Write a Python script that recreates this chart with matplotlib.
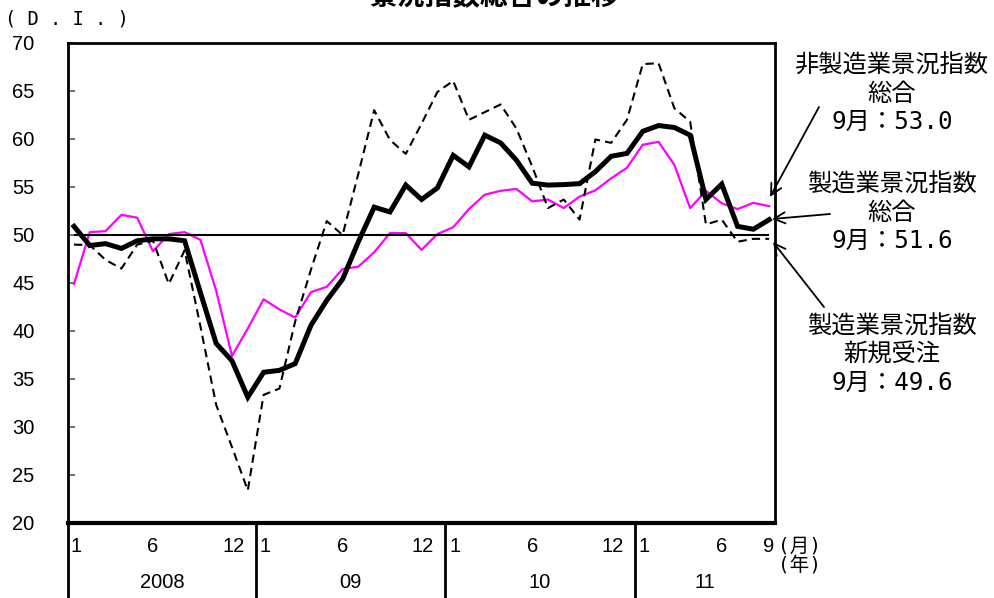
import matplotlib
matplotlib.use('Agg')
import matplotlib.pyplot as plt
import numpy as np

plt.rcParams['font.family'] = ['Liberation Sans', 'Noto Sans CJK JP']

# monthly D.I., Jan 2008 - Sep 2011
mfg = [50.9, 48.9, 49.1, 48.6, 49.4, 49.6, 49.6, 49.4, 44.0, 38.7,
       36.9, 33.1, 35.7, 35.9, 36.6, 40.6, 43.2, 45.4, 49.3, 52.9,
       52.4, 55.2, 53.7, 54.9, 58.3, 57.1, 60.4, 59.6, 57.8, 55.4,
       55.2, 55.25, 55.35, 56.6, 58.2, 58.5, 60.8, 61.4, 61.2, 60.4,
       53.7, 55.3, 50.9, 50.6, 51.6]
nonmfg = [44.9, 50.3, 50.4, 52.1, 51.8, 48.3, 50.1, 50.3, 49.5, 44.2,
          37.4, 40.25, 43.3, 42.25, 41.4, 44.05, 44.6, 46.45, 46.7, 48.2,
          50.2, 50.2, 48.45, 50.1, 50.8, 52.7, 54.2, 54.6, 54.8, 53.5,
          53.7, 52.8, 54.0, 54.65, 55.9, 57.0, 59.4, 59.7, 57.3, 52.8,
          54.6, 53.3, 52.7, 53.35, 53.0]
orders = [49.0, 48.95, 47.4, 46.5, 49.0, 49.4, 44.9, 48.4, 40.5, 32.3,
          27.9, 23.4, 33.35, 34.0, 41.0, 46.4, 51.45, 50.0, 56.4, 63.0,
          59.9, 58.45, 61.6, 64.9, 66.05, 62.0, 62.8, 63.6, 61.1, 57.15,
          52.8, 53.7, 51.6, 59.95, 59.6, 62.0, 67.8, 67.9, 63.2, 61.8,
          51.1, 51.6, 49.3, 49.6, 49.6]

years = ['2008', '09', '10', '11']
year_start = [0, 12, 24, 36]
month_labels = ['1', '6', '12']

notes = ['非製造業景況指数\n総合\n9月：53.0',
         '製造業景況指数\n総合\n9月：51.6',
         '製造業景況指数\n新規受注\n9月：49.6']

W, H = 994, 598
fig = plt.figure(figsize=(W / 100, H / 100), dpi=100)
ax = fig.add_axes([68 / W, 1 - 523 / H, (775 - 68) / W, (523 - 43) / H])

x = np.arange(len(mfg))
ax.plot(x, nonmfg, color='#FF00FF', lw=1.6)
ax.plot(x, orders, color='black', lw=1.5, ls=(0, (4, 2.5)))
ax.plot(x, mfg, color='black', lw=3.6, solid_joinstyle='miter')
ax.hlines(50, 0, 44, color='black', lw=1.5)

ax.set_xlim(-0.38, 44.37)
ax.set_ylim(20, 70)
ax.set_yticks(range(20, 71, 5))
ax.set_xticks([])
ax.tick_params(axis='y', direction='in', length=5, width=1.2, color='#555555',
               labelsize=14.5, pad=24)
for s in ax.spines.values():
    s.set_linewidth(2)
ax.spines['bottom'].set_linewidth(3)

tr = ax.get_xaxis_transform()
bottom = -(H - 523) / 480
for x0 in [-0.38, 11.5, 23.5, 35.5]:
    ax.plot([x0, x0], [0, bottom], transform=tr, color='black', lw=2, clip_on=False)

for ys, yl in zip(year_start, years):
    last = 11 if yl != '11' else 8
    ax.text(ys - 0.25, -0.05, month_labels[0], transform=tr, ha='left', va='center', fontsize=14.5)
    ax.text(ys + 5, -0.05, month_labels[1], transform=tr, ha='center', va='center', fontsize=14.5)
    ax.text(ys + last - 0.2 if last == 11 else 44.3, -0.05, '12' if last == 11 else '9',
            transform=tr, ha='right', va='center', fontsize=14.5)
    xc = (max(ys - 0.5, -0.38) + min(ys + 11.5, 44.37)) / 2
    ax.text(xc, -0.125, yl, transform=tr, ha='center', va='center', fontsize=14.5)

unit_font = ['DejaVu Sans Mono', 'Noto Sans CJK JP']
fig.text(778 / W, 1 - 546 / H, '(月)', family=unit_font, fontsize=14, ha='left', va='center')
fig.text(778 / W, 1 - 565 / H, '(年)', family=unit_font, fontsize=14, ha='left', va='center')
fig.text(5 / W, 1 - 19 / H, '( D . I . )', family='DejaVu Sans Mono', fontsize=13.5,
         ha='left', va='center')

fig.text(0.497, 1 - 4 / H, '景況指数総合の推移', family='Noto Sans CJK JP', fontsize=20,
         fontweight='bold', ha='center', va='baseline')

for txt, yc in zip(notes, [94, 213, 355]):
    fig.text(892 / W, 1 - yc / H, txt, family=unit_font, fontsize=17.5, ha='center',
             va='center', linespacing=1.2, multialignment='center')

arrows = [((770, 197), (819, 107)), ((772, 219), (830, 214)), ((773, 242), (824, 307))]
for tip, tail in arrows:
    ax.annotate('', xy=(tip[0] / W, 1 - tip[1] / H), xytext=(tail[0] / W, 1 - tail[1] / H),
                xycoords='figure fraction', textcoords='figure fraction',
                arrowprops=dict(arrowstyle='->', lw=1.3, color='black', mutation_scale=20,
                                shrinkA=0, shrinkB=0))

fig.savefig('out.png', dpi=100)
